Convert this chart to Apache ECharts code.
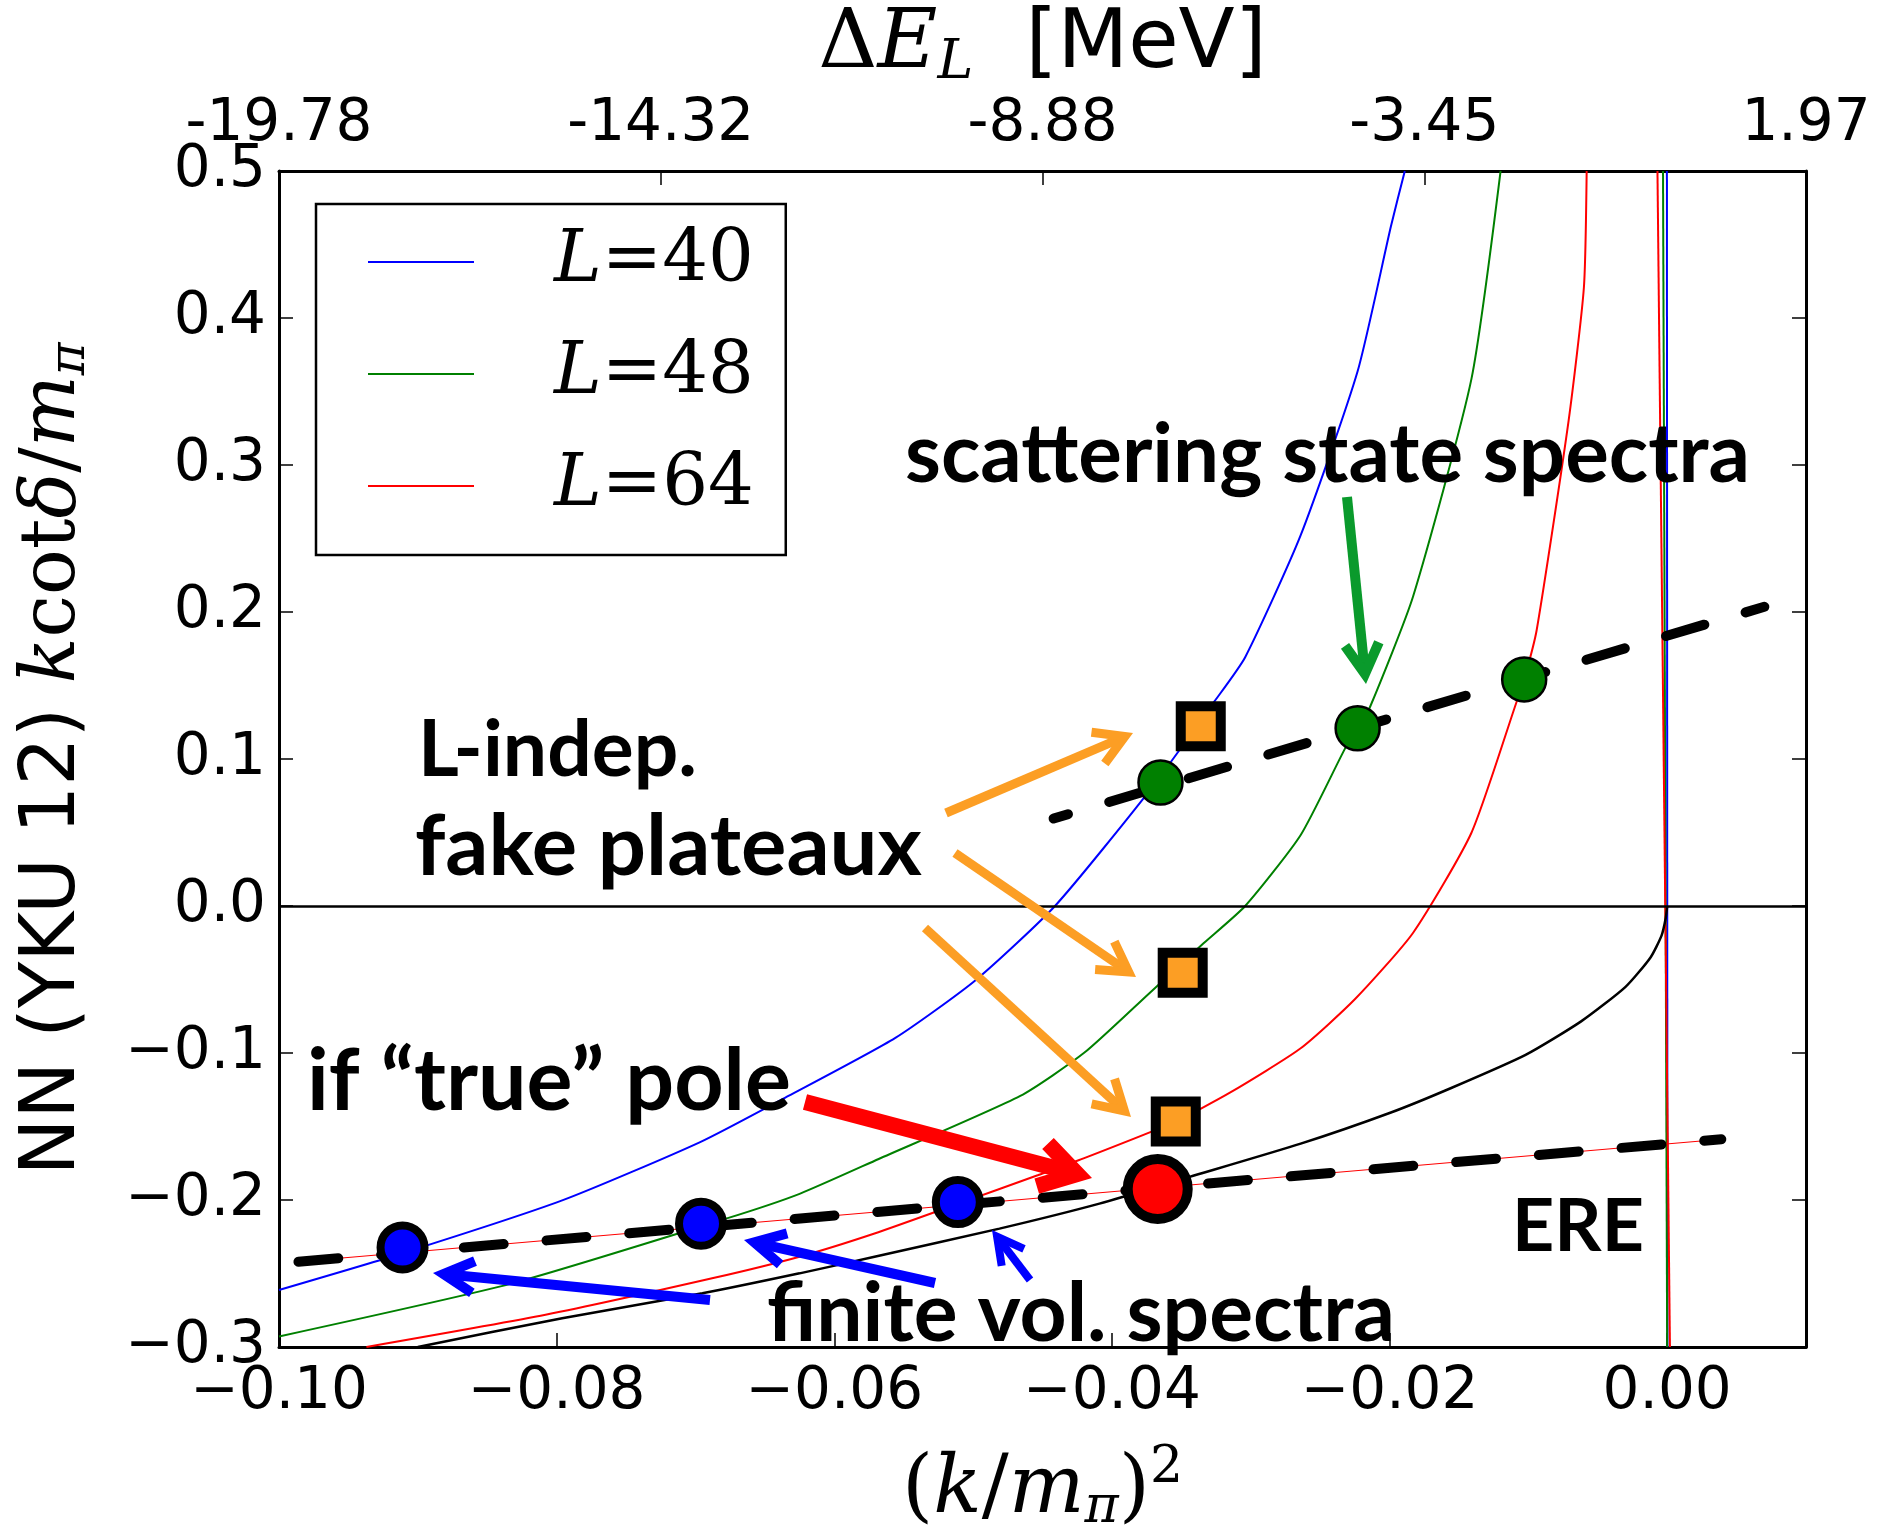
<!DOCTYPE html>
<html>
<head>
<meta charset="utf-8">
<script src="https://cdn.jsdelivr.net/npm/echarts@6/dist/echarts.min.js"></script>
<style>html,body{margin:0;padding:0;background:#fff}#c{width:1886px;height:1539px}</style>
</head>
<body>
<div id="c"></div>
<script>
// ---------------- data ----------------
const topTickLabels = ['-19.78', '-14.32', '-8.88', '-3.45', '1.97'];
const seriesNames = ['L=40', 'L=48', 'L=64'];

const curveL40 = [[-0.1000,-0.2612],[-0.0911,-0.2362],[-0.0796,-0.2003],[-0.0697,-0.1608],[-0.0633,-0.1292],[-0.0556,-0.0897],[-0.0498,-0.0503],[-0.0441,0.0000],[-0.0373,0.0783],[-0.0326,0.1393],[-0.0304,0.1692],[-0.0264,0.2522],[-0.0223,0.3637],[-0.0199,0.4623],[-0.0189,0.5000]];
const curveL48 = [[-0.1000,-0.2928],[-0.0832,-0.2567],[-0.0678,-0.2127],[-0.0625,-0.1958],[-0.0568,-0.1721],[-0.0466,-0.1292],[-0.0420,-0.0999],[-0.0373,-0.0593],[-0.0334,-0.0254],[-0.0304,0.0000],[-0.0264,0.0483],[-0.0232,0.1072],[-0.0223,0.1209],[-0.0214,0.1355],[-0.0183,0.2107],[-0.0141,0.3585],[-0.0120,0.5000]];
const curveL64 = [[-0.0937,-0.3000],[-0.0808,-0.2781],[-0.0688,-0.2533],[-0.0625,-0.2386],[-0.0571,-0.2228],[-0.0512,-0.2030],[-0.0453,-0.1830],[-0.0424,-0.1730],[-0.0355,-0.1470],[-0.0315,-0.1270],[-0.0264,-0.0968],[-0.0225,-0.0635],[-0.0183,-0.0182],[-0.0141,0.0498],[-0.0109,0.1374],[-0.0103,0.1541],[-0.0094,0.1877],[-0.0071,0.3302],[-0.0060,0.4207],[-0.0058,0.5000]];
const poleL40 = [[-0.00002,0.5],[0.00002,-0.3]];
const poleL48 = [[-0.0003,0.5],[0.0000,-0.3]];
const poleL64 = [[-0.0007,0.5],[0.0002,-0.3]];
const curveERE = [[-0.0900,-0.3000],[-0.0796,-0.2804],[-0.0695,-0.2635],[-0.0625,-0.2499],[-0.0571,-0.2386],[-0.0481,-0.2195],[-0.0409,-0.2025],[-0.0344,-0.1843],[-0.0264,-0.1617],[-0.0199,-0.1405],[-0.0156,-0.1240],[-0.0102,-0.1013],[-0.0062,-0.0785],[-0.0030,-0.0550],[-0.0012,-0.0350],[-0.0004,-0.0200],[-0.0001,-0.0080],[0.0000,0.0000]];
const fitLower = [[-0.0986,-0.2420],[0.0039,-0.1587]];
const fitUpper = [[-0.0442,0.0595],[0.0070,0.2035]];
const finiteVolPts = [[-0.0911,-0.2323],[-0.0696,-0.2161],[-0.0511,-0.2014]];
const truePolePt = [[-0.0367,-0.1925]];
const scatteringPts = [[-0.0365,0.0840],[-0.0223,0.1209],[-0.0103,0.1541]];
const fakePlateauPts = [[-0.0336,0.1223],[-0.0349,-0.0454],[-0.0354,-0.1466]];

const noteTexts = ['scattering state spectra', 'L-indep.', 'fake plateaux', 'if \u201ctrue\u201d pole', 'finite vol. spectra', 'ERE'];

// ---------------- layout / style ----------------
const BLUE = '#0000ff', GREEN = '#008000', RED = '#ff0000', ORANGE = '#fc9e24';
const ANN_FONT = 'Lato';
// annotation placement (pixels): left x, baseline y, target width
const notePlace = [
  [905, 487, 845], [418, 781, 279], [415, 880, 507],
  [307, 1116, 484], [767, 1346, 628], [1512, 1256, 132]
];
const arrowPlace = [
  // tail x,y  tip x,y  width headLen headHalf color
  [946, 813, 1133, 733, 9, 29, 17, ORANGE],
  [955, 853, 1136, 977, 9, 29, 17, ORANGE],
  [925, 928, 1131, 1117, 9, 29, 17, ORANGE],
  [1347, 497, 1366, 684, 10, 30, 17, '#0a9a2c'],
  [805, 1102, 1092, 1178, 16, 36, 22, RED],
  [710, 1300, 433, 1273, 10, 30, 16, BLUE],
  [935, 1283, 744, 1240, 10, 30, 16, BLUE],
  [1030, 1280, 992, 1230, 8, 26, 14, BLUE]
];

function minusFmt(v, d) {
  if (v < -1e-9) return '\u2212' + (-v).toFixed(d);
  return Math.abs(v).toFixed(d);
}

const measureCtx = document.createElement('canvas').getContext('2d');
function fitFont(text, target) {
  measureCtx.font = 'bold 100px ' + ANN_FONT;
  const w = measureCtx.measureText(text).width;
  return Math.max(60, Math.min(100, 100 * target / w));
}

function arrowEls(a) {
  const [x1, y1, x2, y2, w, hl, hw, col] = a;
  const dx = x2 - x1, dy = y2 - y1, len = Math.hypot(dx, dy);
  const ux = dx / len, uy = dy / len, nx = -uy, ny = ux;
  const ext = (w / 2) / Math.sin(Math.atan2(hw, hl));
  const ax = x2 - ux * ext, ay = y2 - uy * ext;
  const bx = ax - ux * hl, by = ay - uy * hl;
  return [
    {type: 'polyline', z: 100, shape: {points: [[x1, y1], [ax - ux * 2, ay - uy * 2]]},
     style: {stroke: col, lineWidth: w, fill: null, lineCap: 'butt'}},
    {type: 'polyline', z: 100, shape: {points: [[bx + nx * hw, by + ny * hw], [ax, ay], [bx - nx * hw, by - ny * hw]]},
     style: {stroke: col, lineWidth: w, fill: null, lineJoin: 'miter', miterLimit: 10, lineCap: 'butt'}}
  ];
}

const graphicEls = [];
noteTexts.forEach((t, i) => {
  const [x, base, target] = notePlace[i];
  const fs = fitFont(t, target);
  graphicEls.push({
    type: 'text', z: 100, x: x, y: base - 0.387 * fs,
    style: {text: t, fill: '#000', fontFamily: ANN_FONT, fontWeight: 'bold', fontSize: fs,
            align: 'left', verticalAlign: 'middle'}
  });
});
arrowPlace.forEach(a => arrowEls(a).forEach(e => graphicEls.push(e)));

const tickFont = {fontFamily: 'DejaVu Sans', fontSize: 58, color: '#000'};
const axisLineStyle = {color: '#000', width: 3};
const tickStyle = {inside: true, length: 14, lineStyle: {color: '#000', width: 1.5}};

function lineSeries(name, data, color, width, z, extra) {
  return Object.assign({
    name: name, type: 'line', data: data, symbol: 'none', clip: true, z: z,
    color: color, lineStyle: {color: color, width: width}, itemStyle: {color: color},
    silent: true, animation: false
  }, extra || {});
}
function scatterSeries(name, data, symbol, size, color, bw, z) {
  return {
    name: name, type: 'scatter', data: data, symbol: symbol, symbolSize: size, z: z,
    itemStyle: {color: color, borderColor: '#000', borderWidth: bw, opacity: 1},
    silent: true, animation: false
  };
}
const smoothOpt = {smooth: 0.2};

const option = {
  animation: false,
  backgroundColor: '#fff',
  grid: {left: 279, right: 80, top: 167, bottom: 190, show: false},
  legend: {
    data: seriesNames, orient: 'vertical', left: 316, top: 204,
    padding: [22, 32, 33, 51], itemGap: 40, itemWidth: 106, itemHeight: 2,
    borderColor: '#000', borderWidth: 2.5, borderRadius: 0, backgroundColor: '#fff',
    selectedMode: false,
    formatter: function (name) { return '{i|L}{n|=' + name.split('=')[1] + '}'; },
    textStyle: {
      rich: {
        i: {fontFamily: 'DejaVu Serif', fontStyle: 'italic', fontSize: 72, lineHeight: 72, color: '#000', padding: [0, 0, 0, 75]},
        n: {fontFamily: 'DejaVu Serif', fontSize: 72, lineHeight: 72, color: '#000'}
      }
    }
  },
  xAxis: [
    {
      type: 'value', position: 'bottom', min: -0.1, max: 0.01, interval: 0.02,
      axisLine: {show: true, onZero: false, lineStyle: axisLineStyle},
      axisTick: tickStyle, splitLine: {show: false},
      axisLabel: Object.assign({margin: 17, showMaxLabel: false, formatter: v => minusFmt(v, 2)}, tickFont),
      name: '{p|(}{i|k}{p|/}{i|m}{s|\u03c0}{p|)}{u|2}', nameLocation: 'middle', nameGap: 95,
      nameTextStyle: {
        rich: {
          p: {fontFamily: 'DejaVu Serif', fontSize: 80, color: '#000'},
          i: {fontFamily: 'DejaVu Serif', fontStyle: 'italic', fontSize: 80, color: '#000'},
          s: {fontFamily: 'DejaVu Serif', fontStyle: 'italic', fontSize: 52, color: '#000', padding: [34, 0, 0, 0]},
          u: {fontFamily: 'DejaVu Serif', fontSize: 52, color: '#000', padding: [0, 0, 46, 0]}
        }
      }
    },
    {
      type: 'value', position: 'top', min: 0, max: 4, interval: 1,
      axisLine: {show: true, onZero: false, lineStyle: axisLineStyle},
      axisTick: tickStyle, splitLine: {show: false},
      axisLabel: Object.assign({margin: 17, formatter: v => topTickLabels[Math.round(v)]}, tickFont),
      name: '{d|\u0394}{e|E}{l|L}{t|  [MeV]}', nameLocation: 'middle', nameGap: 68,
      nameTextStyle: {
        rich: {
          d: {fontFamily: 'DejaVu Serif', fontSize: 82, color: '#000'},
          e: {fontFamily: 'DejaVu Serif', fontStyle: 'italic', fontSize: 82, color: '#000'},
          l: {fontFamily: 'DejaVu Serif', fontStyle: 'italic', fontSize: 54, color: '#000', padding: [36, 0, 0, 0]},
          t: {fontFamily: 'DejaVu Sans', fontSize: 82, color: '#000'}
        }
      }
    }
  ],
  yAxis: [
    {
      type: 'value', position: 'left', min: -0.3, max: 0.5, interval: 0.1,
      axisLine: {show: true, onZero: false, lineStyle: axisLineStyle},
      axisTick: tickStyle, splitLine: {show: false},
      axisLabel: Object.assign({margin: 13, formatter: v => minusFmt(v, 1)}, tickFont),
      name: '{a|NN (YKU 12) }{b|k}{c|cot}{b|\u03b4}{c|/}{b|m}{d|\u03c0}',
      nameLocation: 'middle', nameRotate: 90, nameGap: 183,
      nameTextStyle: {
        rich: {
          a: {fontFamily: 'DejaVu Sans', fontSize: 76, color: '#000'},
          b: {fontFamily: 'DejaVu Serif', fontStyle: 'italic', fontSize: 76, color: '#000'},
          c: {fontFamily: 'DejaVu Serif', fontSize: 76, color: '#000'},
          d: {fontFamily: 'DejaVu Serif', fontStyle: 'italic', fontSize: 50, color: '#000', padding: [34, 0, 0, 0]}
        }
      }
    },
    {
      type: 'value', position: 'right', min: -0.3, max: 0.5, interval: 0.1,
      axisLine: {show: true, onZero: false, lineStyle: axisLineStyle},
      axisTick: tickStyle, splitLine: {show: false}, axisLabel: {show: false}
    }
  ],
  series: [
    lineSeries('L=40', curveL40, BLUE, 2, 2, smoothOpt),
    lineSeries('L=48', curveL48, GREEN, 2, 2, smoothOpt),
    lineSeries('L=64', curveL64, RED, 2, 2, smoothOpt),
    lineSeries('L=40 pole', poleL40, BLUE, 2, 2),
    lineSeries('L=48 pole', poleL48, GREEN, 2, 2),
    lineSeries('L=64 pole', poleL64, RED, 2, 2),
    lineSeries('ERE', curveERE, '#000', 2.5, 2, Object.assign({
      markLine: {
        silent: true, symbol: ['none', 'none'], label: {show: false}, animation: false,
        lineStyle: {color: '#000', width: 2.5, type: 'solid'}, emphasis: {disabled: true},
        data: [{yAxis: 0}]
      }
    }, smoothOpt)),
    lineSeries('pole fit', fitLower, RED, 1.2, 3),
    lineSeries('pole fit dashed', fitLower, '#000', 10, 4, {lineStyle: {color: '#000', width: 10, type: [40, 43], cap: 'round'}}),
    lineSeries('scattering fit', fitUpper, '#000', 10, 4, {lineStyle: {color: '#000', width: 10, type: [40, 43], dashOffset: 25, cap: 'round'}}),
    scatterSeries('finite vol. spectra', finiteVolPts, 'circle', 44, BLUE, 8, 6),
    scatterSeries('true pole', truePolePt, 'circle', 60, RED, 10, 6),
    scatterSeries('scattering state spectra', scatteringPts, 'circle', 44, GREEN, 2.5, 6),
    scatterSeries('fake plateaux', fakePlateauPts, 'rect', 40, ORANGE, 10, 6)
  ],
  graphic: {elements: graphicEls}
};

const chart = echarts.init(document.getElementById('c'));
chart.setOption(option);
</script>
</body>
</html>
